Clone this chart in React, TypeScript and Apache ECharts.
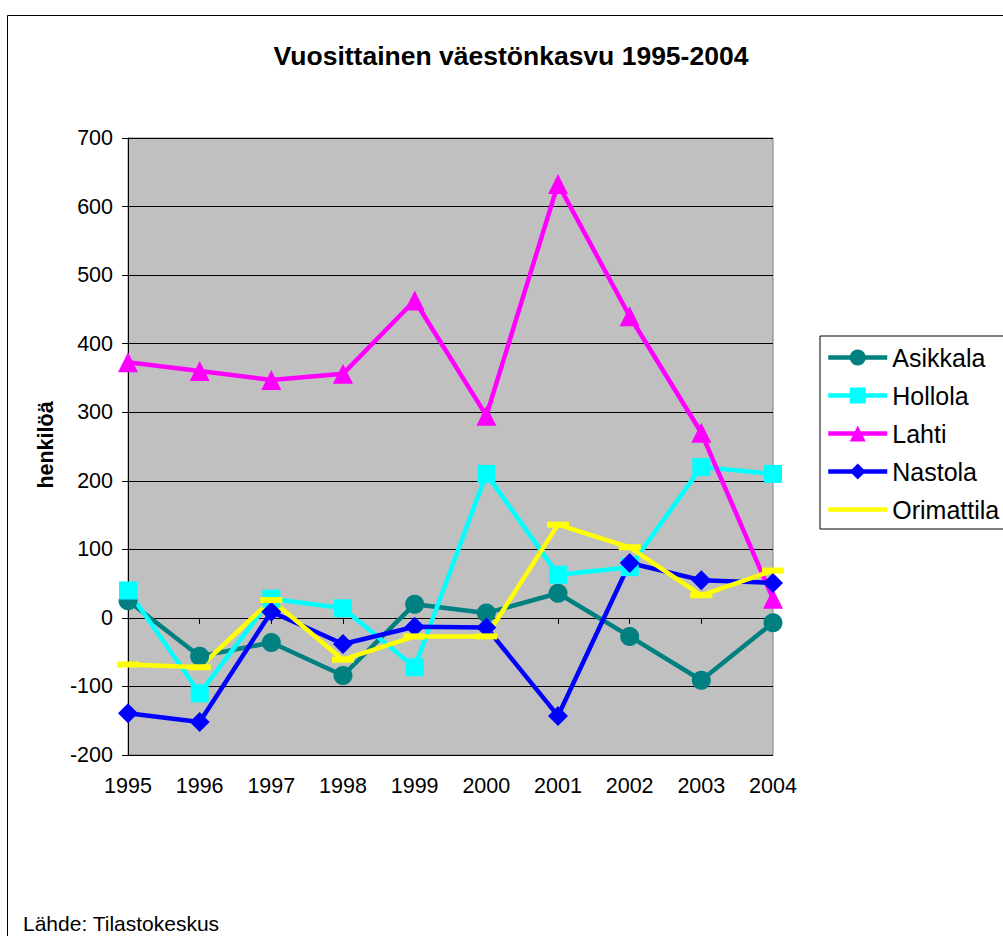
import React, { useEffect, useRef } from "react";
import * as echarts from "echarts";

const years = ["1995", "1996", "1997", "1998", "1999", "2000", "2001", "2002", "2003", "2004"];
const asikkala = [25, -56, -36, -84, 20, 7, 36, -27, -91, -7];
const hollola = [40, -110, 28, 14, -72, 210, 63, 74, 220, 210];
const lahti = [373, 360, 347, 356, 463, 295, 633, 440, 270, 28];
const nastola = [-139, -152, 9, -38, -13, -14, -143, 80, 55, 51];
const orimattila = [-68, -72, 26, -61, -27, -27, 136, 103, 33, 69];

const titleText = "Vuosittainen väestönkasvu 1995-2004";
const yAxisTitle = "henkilöä";
const sourceText = "Lähde: Tilastokeskus";

const FONT = "'Liberation Sans', Arial, sans-serif";

export default function App() {
  const ref = useRef<HTMLDivElement>(null);
  useEffect(() => {
    if (!ref.current) return;
    const chart = echarts.init(ref.current, null, { renderer: "svg" });
    const mk = (name: string, data: number[], color: string, symbol: string, size: any) => ({
      name,
      type: "line",
      data,
      xAxisIndex: 0,
      yAxisIndex: 0,
      symbol,
      symbolSize: size,
      showAllSymbol: true,
      itemStyle: { color, opacity: 1 },
      lineStyle: { color, width: 4.5 },
      emphasis: { disabled: true },
    });
    chart.setOption({
      animation: false,
      textStyle: { fontFamily: FONT },
      grid: {
        left: 128,
        right: 230,
        top: 138,
        bottom: 181,
        show: true,
        backgroundColor: "#C0C0C0",
        borderColor: "#808080",
        borderWidth: 1,
      },
      legend: {
        orient: "vertical",
        left: 820,
        top: 336,
        padding: [9, 30, 7, 6],
        itemWidth: 59,
        itemHeight: 20,
        itemGap: 13,
        borderColor: "#000",
        borderWidth: 1,
        backgroundColor: "#fff",
        lineStyle: { width: 4.5 },
        textStyle: { fontSize: 25, color: "#000", fontFamily: FONT, lineHeight: 25 },
        data: [
          { name: "Asikkala" },
          { name: "Hollola" },
          { name: "Lahti" },
          { name: "Nastola" },
          { name: "Orimattila", icon: "path://M0,0M0,20M0,7.75H59V12.25H0Z" },
        ],
      },
      xAxis: [
        {
          type: "category",
          data: years,
          boundaryGap: false,
          position: "bottom",
          axisLine: { show: false, onZero: false },
          axisTick: { show: false },
          splitLine: { show: false },
          axisLabel: { fontSize: 21.5, color: "#000", margin: 20, fontFamily: FONT },
        },
        {
          type: "category",
          data: years,
          boundaryGap: false,
          position: "bottom",
          axisLine: { show: true, onZero: true, lineStyle: { color: "#000", width: 1 } },
          axisTick: { show: true, inside: false, length: 6, lineStyle: { color: "#000" } },
          axisLabel: { show: false },
          splitLine: { show: false },
        },
      ],
      yAxis: {
        type: "value",
        min: -200,
        max: 700,
        interval: 100,
        axisLine: { show: true, lineStyle: { color: "#000", width: 1 } },
        axisTick: { show: true, length: 6, lineStyle: { color: "#000" } },
        axisLabel: { fontSize: 21.5, color: "#000", margin: 15, fontFamily: FONT },
        splitLine: { show: true, lineStyle: { color: "#000", width: 1 } },
      },
      graphic: [
        {
          type: "rect",
          shape: { x: 7.5, y: 15.5, width: 1100, height: 1000 },
          style: { fill: "none", stroke: "#000", lineWidth: 1 },
          z: -10,
          silent: true,
        },
        {
          type: "text",
          x: 511,
          y: 56,
          style: {
            text: titleText,
            fontSize: 26.5,
            fontWeight: "bold",
            fontFamily: FONT,
            fill: "#000",
            align: "center",
            verticalAlign: "middle",
          },
        },
        {
          type: "text",
          x: 45.5,
          y: 445,
          rotation: Math.PI / 2,
          style: {
            text: yAxisTitle,
            fontSize: 21.5,
            fontWeight: "bold",
            fontFamily: FONT,
            fill: "#000",
            align: "center",
            verticalAlign: "middle",
          },
        },
        {
          type: "text",
          x: 23,
          y: 923,
          style: {
            text: sourceText,
            fontSize: 21,
            fontFamily: FONT,
            fill: "#000",
            align: "left",
            verticalAlign: "middle",
          },
        },
      ],
      series: [
        mk("Asikkala", asikkala, "#008080", "circle", 19),
        mk("Hollola", hollola, "#00FFFF", "rect", 18),
        mk("Lahti", lahti, "#FF00FF", "triangle", 20),
        mk("Nastola", nastola, "#0000FF", "diamond", 20),
        mk("Orimattila", orimattila, "#FFFF00", "rect", [22, 6]),
      ],
    });
    return () => chart.dispose();
  }, []);
  return (
    <div
      ref={ref}
      style={{ position: "absolute", left: 0, top: 0, width: 1003, height: 936, background: "#fff" }}
    />
  );
}
